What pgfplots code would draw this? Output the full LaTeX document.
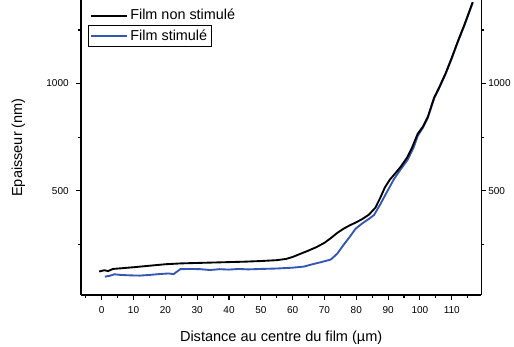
\documentclass[border=0pt]{standalone}
\usepackage{pgfplots}
\pgfplotsset{compat=1.18}
\usepackage{fontspec}
\setmainfont{Liberation Sans}
\definecolor{filmblue}{RGB}{52,86,180}

\pgfplotsset{
  filmaxis/.style={
    scale only axis,
    width=300pt, height=221pt,
    xmin=-6.5, xmax=119.3, ymin=13, ymax=1390,
    tick align=outside,
    major tick length=3.75pt, minor tick length=2.2pt,
    every tick/.style={black, line width=0.8pt},
    axis line style={line width=1.1pt},
    ytick={500,1000}, minor ytick={250,750,1250},
    tick label style={font=\fontsize{7.5}{9}\selectfont},
    /pgf/number format/assume math mode=true,
    /pgf/number format/1000 sep={},
    legend cell align=left,
    legend image code/.code={\draw[#1] (0cm,0cm) -- (0.95cm,0cm);},
    legend style={font=\fontsize{10.8}{12}\selectfont, inner sep=1pt,
      anchor=north west, row sep=0pt},
  }
}

\begin{document}
\begin{tikzpicture}
\begin{axis}[filmaxis, name=ax1,
  axis x line*=bottom, axis y line*=left,
  xtick={0,10,...,110}, minor xtick={-5,5,...,115},
  xticklabel style={yshift=-1.5pt},
  yticklabel style={xshift=-2pt},
  xlabel={Distance au centre du film (µm)},
  ylabel={Epaisseur (nm)},
  xlabel style={yshift=-6pt},
  ylabel style={yshift=9pt},
  label style={font=\fontsize{10.9}{12}\selectfont},
  legend style={at={(rel axis cs:0.0176,0.915)}, draw=black, line width=0.5pt},
]
\addplot[filmblue, line width=1.4pt] coordinates {
(1,98) (2.5,102) (4,109) (6,106) (9,104) (12,103) (15,106) (18,110)
(21,113) (22.6,110) (24.7,133) (28,134) (31,133) (34,129) (37,133)
(40,131) (43,134) (46,132) (50,134) (55,136) (60,140) (63.5,145)
(66,155) (69,166) (72,178) (74,205) (76.1,248) (78,285) (79.8,322)
(82,348) (84,368) (85.6,386) (87.7,440) (89.5,490) (91.9,555) (94,600)
(96.1,643) (98,700) (99.3,755) (101,795) (102.5,840) (104.5,932)
(106,977) (108,1042) (110,1117) (112,1197) (114,1272) (116.6,1378)
};
\addlegendentry{Film stimulé}
\end{axis}
\begin{axis}[filmaxis, name=ax2,
  axis x line=none, axis y line*=right,
  xtick=\empty, yticklabel pos=right,
  yticklabel style={xshift=-2pt},
  legend style={at={(rel axis cs:0.0176,0.983)}, draw=none, fill=none},
]
\addplot[black, line width=1.4pt] coordinates {
(-0.8,122) (0.8,128) (2,124) (3.5,134) (6,137) (10,142) (15,149) (20,156)
(25,160) (30,162) (35,164) (40,166) (45,168) (50,171) (55,175) (58,181)
(60,190) (62.5,205) (65,220) (67.5,236) (70,256) (72,278) (74,302)
(76,322) (78,338) (80,352) (82,368) (84,388) (86,420) (87.5,465)
(89,515) (90.5,550) (92.5,585) (94,612) (96,655) (97.5,700) (99.3,765)
(101,800) (102.5,845) (104.5,935) (106,980) (108,1045) (110,1120)
(112,1200) (114,1275) (116.6,1380)
};
\addlegendentry{Film non stimulé}
\end{axis}
\pgfresetboundingbox
\path (ax1.south west) ++(-60.75pt,-39pt) coordinate (bbsw);
\path (ax1.north east) ++(24.5pt,0pt) coordinate (bbne);
\path (bbsw) rectangle (bbne);
\end{tikzpicture}
\end{document}
